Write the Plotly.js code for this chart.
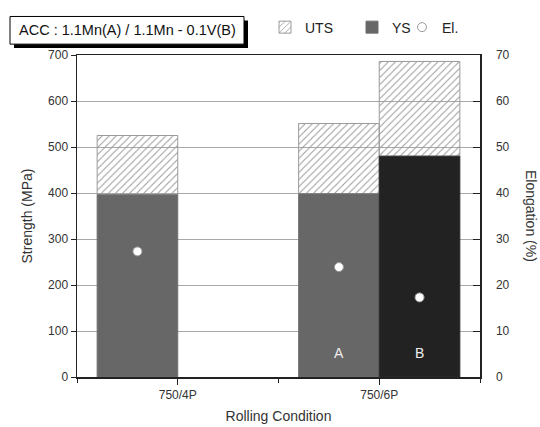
<!DOCTYPE html>
<html>
<head>
<meta charset="utf-8">
<script src="https://cdn.plot.ly/plotly-3.0.1.min.js"></script>
<style>html,body{margin:0;padding:0;background:#fff}#chart{width:540px;height:427px}</style>
</head>
<body>
<div id="chart"></div>
<script>
// ---- data ----
const categories = ['750/4P', '750/6P'];
const catPos = [0, 1];
const steelLabels = ['A', 'B'];
// Steel A (1.1Mn) at both conditions
const ysA = [396, 398];
const utsA = [525, 551];
const elA = [27.3, 23.9];
// Steel B (1.1Mn-0.1V) only at 750/6P
const ysB = [480];
const utsB = [686];
const elB = [17.3];
const catPosB = [1];

// ---- layout helpers ----
const W = 540, H = 427, L = 77, R = 60, T = 51, B = 50;
const pw = W - L - R, ph = H - T - B;
const px = x => (x - L) / pw;
const py = y => (H - B - y) / ph;

const barW = 0.4;
const font = 'Liberation Sans, Arial, sans-serif';

const hatch = {shape: '/', fgcolor: '#9a9a9a', bgcolor: 'rgba(0,0,0,0)', size: 5, solidity: 0.2, fillmode: 'replace'};
const legFont = {size: 14, color: '#222'};
const legBase = {orientation: 'h', xanchor: 'left', yanchor: 'top', font: legFont, bgcolor: 'rgba(0,0,0,0)'};

const traces = [
  {type: 'bar', name: 'UTS', x: catPos, base: ysA, y: utsA.map((u, i) => u - ysA[i]),
   width: barW, offset: -barW, marker: {color: 'rgba(0,0,0,0)', pattern: hatch, line: {color: '#9a9a9a', width: 1}},
   legend: 'legend', showlegend: true, hoverinfo: 'skip'},
  {type: 'bar', name: 'UTS', x: catPosB, base: ysB, y: utsB.map((u, i) => u - ysB[i]),
   width: barW, offset: 0, marker: {color: 'rgba(0,0,0,0)', pattern: hatch, line: {color: '#9a9a9a', width: 1}},
   showlegend: false, hoverinfo: 'skip'},
  {type: 'bar', name: 'YS', x: catPos, y: ysA, width: barW, offset: -barW,
   marker: {color: '#676767', line: {color: '#6f6f6f', width: 1}}, legend: 'legend2', showlegend: true},
  {type: 'bar', name: 'YS', x: catPosB, y: ysB, width: barW, offset: 0,
   marker: {color: '#222222', line: {color: '#2a2a2a', width: 1}}, showlegend: false},
  {type: 'scatter', mode: 'markers', name: 'El.', x: catPos.map(c => c - barW / 2), y: elA, yaxis: 'y2',
   marker: {color: '#ffffff', size: 9, line: {color: '#999999', width: 1}}, legend: 'legend3', showlegend: true},
  {type: 'scatter', mode: 'markers', name: 'El.', x: catPosB.map(c => c + barW / 2), y: elB, yaxis: 'y2',
   marker: {color: '#ffffff', size: 9, line: {color: '#999999', width: 1}}, showlegend: false}
];

const layout = {
  width: W, height: H,
  margin: {l: L, r: R, t: T, b: B, pad: 0},
  paper_bgcolor: '#fff', plot_bgcolor: '#fff',
  font: {family: font, size: 12, color: '#333'},
  barmode: 'overlay',
  showlegend: true,
  legend: Object.assign({x: px(265), y: py(7)}, legBase),
  legend2: Object.assign({x: px(352), y: py(7)}, legBase),
  legend3: Object.assign({x: px(402), y: py(7)}, legBase),
  xaxis: {range: [-0.5, 1.5], tickvals: catPos, ticktext: categories, ticks: 'outside', ticklen: 6,
          tickcolor: '#222', tickwidth: 1, showline: true, linecolor: '#222', linewidth: 1.5, mirror: true,
          zeroline: false, showgrid: false, tickfont: {size: 12, color: '#333'},
          minor: {dtick: 0.5, tick0: 0, ticks: 'outside', ticklen: 4, tickcolor: '#222', showgrid: false},
          title: {text: 'Rolling Condition', font: {size: 14, color: '#333'}, standoff: 10}},
  yaxis: {range: [0, 700], dtick: 100, ticks: 'outside', ticklen: 5, tickcolor: '#222', showline: true,
          linecolor: '#222', linewidth: 1.5, showgrid: true, gridcolor: '#a8a8a8', gridwidth: 1, zeroline: false,
          tickfont: {size: 12, color: '#333'},
          title: {text: 'Strength (MPa)', font: {size: 14, color: '#333'}, standoff: 12}},
  yaxis2: {range: [0, 70], dtick: 10, overlaying: 'y', side: 'right', ticks: 'inside', ticklen: 7,
           tickcolor: '#222', showline: true, linecolor: '#222', linewidth: 1.5, showgrid: false, zeroline: false,
           ticklabelstandoff: 12, tickfont: {size: 12, color: '#333'}},
  shapes: [
    {type: 'rect', xref: 'paper', yref: 'paper', x0: px(14), x1: px(248), y0: py(16), y1: py(44),
     fillcolor: '#000', line: {width: 0}, layer: 'above'},
    {type: 'rect', xref: 'paper', yref: 'paper', x0: px(10), x1: px(244), y0: py(12), y1: py(40),
     fillcolor: '#fff', line: {color: '#000', width: 1}, layer: 'above'}
  ],
  annotations: [
    {xref: 'paper', yref: 'paper', x: px(127), y: py(26), text: 'ACC : 1.1Mn(A) / 1.1Mn - 0.1V(B)',
     showarrow: false, font: {size: 14.5, color: '#111'}, xanchor: 'center', yanchor: 'middle'},
    {xref: 'paper', yref: 'paper', x: px(531), y: py(214), text: 'Elongation (%)', textangle: 90,
     showarrow: false, font: {size: 14, color: '#333'}, xanchor: 'center', yanchor: 'middle'},
    {xref: 'x', yref: 'y', x: catPos[1] - barW / 2, y: 53, text: steelLabels[0], showarrow: false,
     font: {size: 14, color: '#eee'}},
    {xref: 'x', yref: 'y', x: catPosB[0] + barW / 2, y: 53, text: steelLabels[1], showarrow: false,
     font: {size: 14, color: '#eee'}}
  ]
};

Plotly.newPlot('chart', traces, layout, {displayModeBar: false, staticPlot: true});
</script>
</body>
</html>
